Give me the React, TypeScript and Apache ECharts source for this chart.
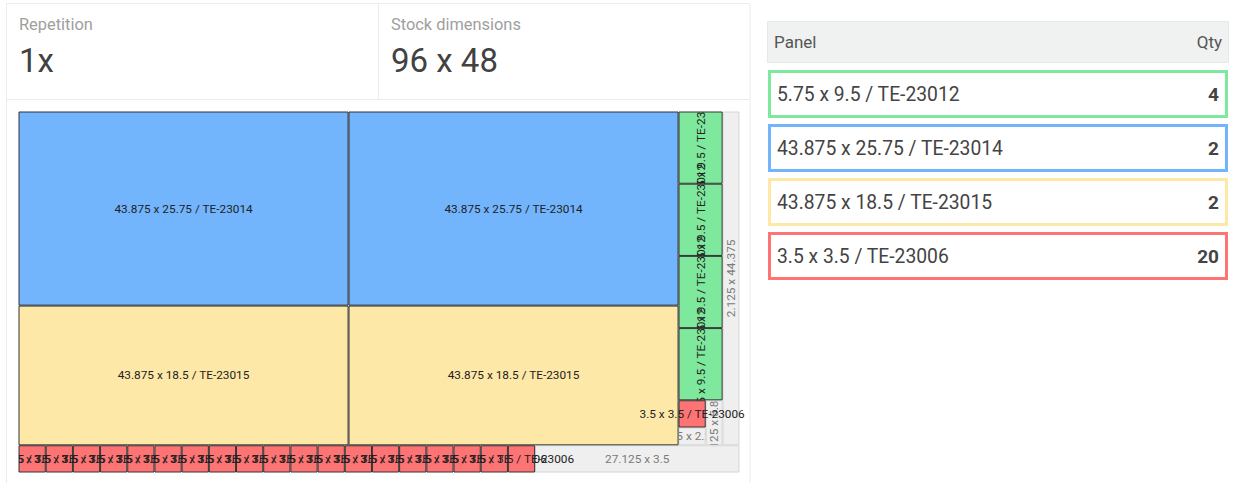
import React, { useEffect, useRef } from 'react';
import * as echarts from 'echarts';

// ---- header data ----
const repetitionTitle = 'Repetition';
const repetitionValue = '1x';
const stockTitle = 'Stock dimensions';
const stockWidth = 96;
const stockHeight = 48;

// ---- panel types (table) ----
const panelCodes = ['TE-23012', 'TE-23014', 'TE-23015', 'TE-23006'];
const panelWidths = [5.75, 43.875, 43.875, 3.5];
const panelHeights = [9.5, 25.75, 18.5, 3.5];
const panelQty = [4, 2, 2, 20];
const tableHeader = ['Panel', 'Qty'];

// ---- placed panels on the stock sheet (stock units) ----
const placedType = [1, 1, 2, 2, 0, 0, 0, 0, 3,
  3, 3, 3, 3, 3, 3, 3, 3, 3, 3, 3, 3, 3, 3, 3, 3, 3, 3, 3];
const placedX = [0, 44, 0, 44, 88, 88, 88, 88, 88,
  0, 3.625, 7.25, 10.875, 14.5, 18.125, 21.75, 25.375, 29, 32.625,
  36.25, 39.875, 43.5, 47.125, 50.75, 54.375, 58, 61.625, 65.25];
const placedY = [0, 0, 25.875, 25.875, 0, 9.625, 19.25, 28.875, 38.5,
  44.5, 44.5, 44.5, 44.5, 44.5, 44.5, 44.5, 44.5, 44.5, 44.5,
  44.5, 44.5, 44.5, 44.5, 44.5, 44.5, 44.5, 44.5, 44.5];

// ---- offcuts (waste) ----
const offcutX = [93.875, 91.625, 88, 68.875];
const offcutY = [0, 38.5, 42.125, 44.5];
const offcutW = [2.125, 2.125, 3.5, 27.125];
const offcutH = [44.375, 5.875, 2.25, 3.5];

// ---- styles ----
const typeColors = ['#7ee89c', '#72b5fd', '#fee8a8', '#fe7474'];
const FONT = 'Roboto, "Liberation Sans", Arial, sans-serif';

export default function App() {
  const ref = useRef<HTMLDivElement | null>(null);

  useEffect(() => {
    document.body.style.margin = '0';
    if (!ref.current) return;
    const chart = echarts.init(ref.current, undefined, { renderer: 'svg' });

    const panelData = placedType.map((t, i) => [placedX[i], placedY[i], panelWidths[t], panelHeights[t], t]);
    const offcutData = offcutX.map((x, i) => [x, offcutY[i], offcutW[i], offcutH[i]]);

    const makeRender = (isWaste: boolean) => (params: any, api: any) => {
      const x = api.value(0);
      const y = api.value(1);
      const w = api.value(2);
      const h = api.value(3);
      const t = isWaste ? -1 : api.value(4);
      const p = api.coord([x, y]);
      const s = api.size([w, h]);
      const cs = params.coordSys;
      const cx = p[0] + s[0] / 2;
      const cy = p[1] + s[1] / 2;
      const text = isWaste ? `${w} x ${h}` : `${w} x ${h} / ${panelCodes[t]}`;
      const clip = isWaste
        ? { x: p[0], y: p[1], width: s[0], height: s[1] }
        : { x: cs.x, y: cs.y, width: cs.width + 11, height: cs.height + 10 };
      return {
        type: 'group',
        children: [
          {
            type: 'rect',
            shape: { x: p[0], y: p[1], width: s[0], height: s[1] },
            style: isWaste
              ? { fill: '#efefef', stroke: '#d6d6d6', lineWidth: 1 }
              : { fill: typeColors[t], stroke: '#333333', lineWidth: 1 },
          },
          {
            type: 'group',
            clipPath: { type: 'rect', shape: clip },
            children: [
              {
                type: 'text',
                x: cx,
                y: cy,
                rotation: h > w ? Math.PI / 2 : 0,
                style: {
                  text,
                  fill: isWaste ? '#7a7a7a' : '#222222',
                  font: `11.8px ${FONT}`,
                  align: 'center',
                  verticalAlign: 'middle',
                },
              },
            ],
          },
        ],
      };
    };

    const graphics: any[] = [];
    // left card
    graphics.push({ type: 'rect', z: -10, shape: { x: 6.5, y: 3.5, width: 743.5, height: 500 }, style: { fill: '#ffffff', stroke: '#ececec', lineWidth: 1 } });
    graphics.push({ type: 'line', z: -9, shape: { x1: 378.5, y1: 3.5, x2: 378.5, y2: 99.5 }, style: { stroke: '#ececec', lineWidth: 1 } });
    graphics.push({ type: 'line', z: -9, shape: { x1: 6.5, y1: 99.5, x2: 750, y2: 99.5 }, style: { stroke: '#ececec', lineWidth: 1 } });
    const headerTexts = [
      [repetitionTitle, 19, 24, 16.4, '#9e9e9e'],
      [repetitionValue, 19, 60, 33, '#424242'],
      [stockTitle, 391, 24, 16.4, '#9e9e9e'],
      [`${stockWidth} x ${stockHeight}`, 391, 60, 33, '#424242'],
    ];
    headerTexts.forEach(([t, x, y, fs, c]) => {
      graphics.push({ type: 'text', x, y, style: { text: t, fill: c, font: `${fs}px ${FONT}`, align: 'left', verticalAlign: 'middle' } });
    });

    // table header
    graphics.push({ type: 'rect', shape: { x: 767.5, y: 21.5, width: 461, height: 41 }, style: { fill: '#f0f1f1', stroke: '#e6e8e8', lineWidth: 1 } });
    graphics.push({ type: 'text', x: 774, y: 42, style: { text: tableHeader[0], fill: '#555555', font: `17px ${FONT}`, align: 'left', verticalAlign: 'middle' } });
    graphics.push({ type: 'text', x: 1222, y: 42, style: { text: tableHeader[1], fill: '#555555', font: `17px ${FONT}`, align: 'right', verticalAlign: 'middle' } });

    panelCodes.forEach((code, i) => {
      const top = 70 + i * 54;
      graphics.push({ type: 'rect', shape: { x: 769.5, y: top + 1.5, width: 457, height: 45 }, style: { fill: '#ffffff', stroke: typeColors[i], lineWidth: 3 } });
      graphics.push({ type: 'text', x: 777, y: top + 24, style: { text: `${panelWidths[i]} x ${panelHeights[i]} / ${code}`, fill: '#444444', font: `19.3px ${FONT}`, align: 'left', verticalAlign: 'middle' } });
      graphics.push({ type: 'text', x: 1219, y: top + 24, style: { text: String(panelQty[i]), fill: '#444444', font: `bold 19px ${FONT}`, align: 'right', verticalAlign: 'middle' } });
    });

    chart.setOption({
      animation: false,
      backgroundColor: '#ffffff',
      grid: { left: 19, top: 112, width: 720, height: 360, containLabel: false },
      xAxis: { type: 'value', min: 0, max: stockWidth, show: false },
      yAxis: { type: 'value', min: 0, max: stockHeight, inverse: true, show: false },
      graphic: graphics,
      series: [
        {
          type: 'custom',
          coordinateSystem: 'cartesian2d',
          renderItem: makeRender(true),
          data: offcutData,
          encode: { x: 0, y: 1 },
          silent: true,
        },
        {
          type: 'custom',
          coordinateSystem: 'cartesian2d',
          renderItem: makeRender(false),
          data: panelData,
          encode: { x: 0, y: 1 },
          silent: true,
        },
      ],
    });

    return () => chart.dispose();
  }, []);

  return <div ref={ref} style={{ width: 1241, height: 483 }} />;
}
